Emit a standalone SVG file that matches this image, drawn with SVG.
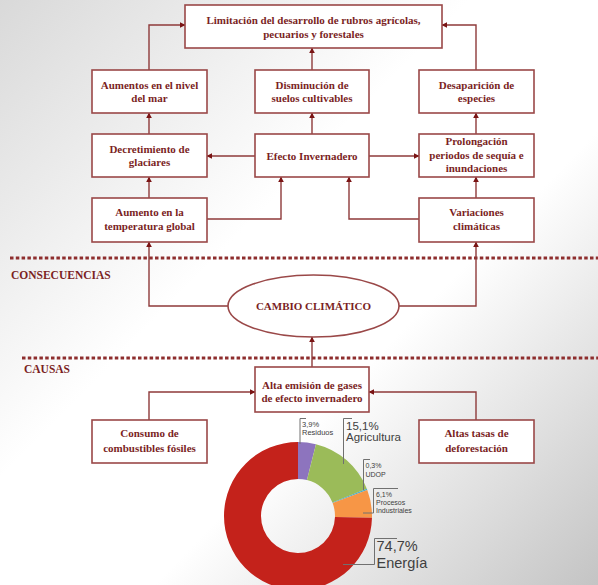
<svg xmlns="http://www.w3.org/2000/svg" width="598" height="585" viewBox="0 0 598 585">
<defs>
<linearGradient id="bg" gradientUnits="userSpaceOnUse" x1="0" y1="0" x2="598" y2="585">
<stop offset="0" stop-color="#d9d9d9"/>
<stop offset="0.4" stop-color="#ffffff"/>
<stop offset="0.62" stop-color="#ffffff"/>
<stop offset="1" stop-color="#c4c4c4"/>
</linearGradient>
<marker id="ah" viewBox="0 0 10 10" refX="9" refY="5" markerWidth="6" markerHeight="6" markerUnits="userSpaceOnUse" orient="auto">
<path d="M0,0 L10,5 L0,10 Z" fill="#7a1414"/>
</marker>
<style>
.box{fill:#ffffff;stroke:#9a4848;stroke-width:1.6}
.t{font-family:"Liberation Serif","Times New Roman",serif;font-weight:bold;font-size:11px;fill:#7b1f1f;text-anchor:middle}
.sec{font-family:"Liberation Serif","Times New Roman",serif;font-weight:bold;font-size:11.5px;fill:#7b1f1f}
.c{fill:none;stroke:#8e3a3a;stroke-width:1.4;marker-end:url(#ah)}
.dash{fill:none;stroke:#8e2e2e;stroke-width:3;stroke-dasharray:3.5 2.3}
.lead{fill:none;stroke:#707070;stroke-width:1}
.lbl{font-family:"Liberation Sans",Arial,sans-serif;fill:#404040}
</style>
</defs>
<rect x="0" y="0" width="598" height="585" fill="url(#bg)"/>

<g id="separators">
<line class="dash" x1="10" y1="258" x2="598" y2="258"/>
<line class="dash" x1="22" y1="358" x2="598" y2="358"/>
<text class="sec" x="11" y="279">CONSECUENCIAS</text>
<text class="sec" x="24" y="373" font-size="10.5">CAUSAS</text>
</g>

<g id="connectors">
<path class="c" d="M149,70 V25 H185"/>
<path class="c" d="M312,70 V48"/>
<path class="c" d="M476,70 V25 H442"/>
<path class="c" d="M149,134 V113"/>
<path class="c" d="M312,134 V113"/>
<path class="c" d="M476,134 V113"/>
<path class="c" d="M255,156 H207"/>
<path class="c" d="M369,156 H419"/>
<path class="c" d="M149,198 V177"/>
<path class="c" d="M476,198 V177"/>
<path class="c" d="M207,219 H281 V177"/>
<path class="c" d="M419,219 H349 V177"/>
<path class="c" d="M228,306 H149 V242"/>
<path class="c" d="M399,306 H476 V242"/>
<path class="c" d="M312,367 V337"/>
<path class="c" d="M149,420 V392 H255"/>
<path class="c" d="M476,420 V392 H369"/>
</g>

<g id="n-limitacion">
<rect class="box" x="185" y="5" width="257" height="43"/>
<text class="t" x="313.5" y="23.5">Limitación del desarrollo de rubros agrícolas,</text>
<text class="t" x="313.5" y="37.5">pecuarios y forestales</text>
</g>
<g id="n-aumentos-mar">
<rect class="box" x="92" y="70" width="115" height="43"/>
<text class="t" x="149.5" y="88.5">Aumentos en el nivel</text>
<text class="t" x="149.5" y="102">del mar</text>
</g>
<g id="n-disminucion">
<rect class="box" x="255" y="70" width="114" height="43"/>
<text class="t" x="312" y="88.5">Disminución de</text>
<text class="t" x="312" y="102">suelos cultivables</text>
</g>
<g id="n-desaparicion">
<rect class="box" x="419" y="70" width="115" height="43"/>
<text class="t" x="476.5" y="88.5">Desaparición de</text>
<text class="t" x="476.5" y="102">especies</text>
</g>
<g id="n-decretimiento">
<rect class="box" x="92" y="134" width="115" height="43"/>
<text class="t" x="149.5" y="153">Decretimiento de</text>
<text class="t" x="149.5" y="166">glaciares</text>
</g>
<g id="n-efecto">
<rect class="box" x="255" y="134" width="114" height="43"/>
<text class="t" x="312" y="159.5">Efecto Invernadero</text>
</g>
<g id="n-prolongacion">
<rect class="box" x="419" y="134" width="115" height="43"/>
<text class="t" x="476.5" y="145">Prolongación</text>
<text class="t" x="476.5" y="158.5">periodos de sequía e</text>
<text class="t" x="476.5" y="172">inundaciones</text>
</g>
<g id="n-aumento-temp">
<rect class="box" x="92" y="198" width="115" height="44"/>
<text class="t" x="149.5" y="215.5">Aumento en la</text>
<text class="t" x="149.5" y="230">temperatura global</text>
</g>
<g id="n-variaciones">
<rect class="box" x="419" y="198" width="115" height="44"/>
<text class="t" x="476.5" y="215.5">Variaciones</text>
<text class="t" x="476.5" y="230">climáticas</text>
</g>
<g id="n-cambio">
<ellipse class="box" cx="313.5" cy="306" rx="85.5" ry="31"/>
<text class="t" x="313.5" y="310">CAMBIO CLIMÁTICO</text>
</g>
<g id="n-alta-emision">
<rect class="box" x="255" y="367" width="114" height="45"/>
<text class="t" x="312" y="388.5">Alta emisión de gases</text>
<text class="t" x="312" y="402">de efecto invernadero</text>
</g>
<g id="n-consumo">
<rect class="box" x="92" y="420" width="115" height="43"/>
<text class="t" x="149.5" y="437">Consumo de</text>
<text class="t" x="149.5" y="451.5">combustibles fósiles</text>
</g>
<g id="n-deforestacion">
<rect class="box" x="419" y="420" width="115" height="43"/>
<text class="t" x="476.5" y="437">Altas tasas de</text>
<text class="t" x="476.5" y="451.5">deforestación</text>
</g>

<g id="chart">
<path d="M298,442 A74,74 0 0 1 315.95,444.21 L306.98,480.11 A37,37 0 0 0 298,479 Z" fill="#8d74be"/>
<path d="M315.95,444.21 A74,74 0 0 1 366.8,488.76 L332.4,502.38 A37,37 0 0 0 306.98,480.11 Z" fill="#9bbb59"/>
<path d="M366.8,488.76 A74,74 0 0 1 367.3,490.06 L332.65,503.03 A37,37 0 0 0 332.4,502.38 Z" fill="#4bacc6"/>
<path d="M367.3,490.06 A74,74 0 0 1 371.98,517.86 L334.99,516.93 A37,37 0 0 0 332.65,503.03 Z" fill="#f79646"/>
<path d="M371.98,517.86 A74,74 0 1 1 298,442 L298,479 A37,37 0 1 0 334.99,516.93 Z" fill="#c4221b"/>

<polyline class="lead" points="306,418.5 300,418.5 300,444"/>
<polyline class="lead" points="352,418.5 343.5,418.5 343.5,464"/>
<polyline class="lead" points="370,459.5 363.5,459.5 363.5,490"/>
<polyline class="lead" points="398,488.5 373.5,488.5 373.5,513 363,513"/>
<polyline class="lead" points="397,538.5 374.5,538.5 374.5,564.5 343,564.5"/>

<text class="lbl" x="302" y="426.5" font-size="7.5">3,9%</text>
<text class="lbl" x="302" y="434.5" font-size="7.5">Residuos</text>
<text class="lbl" x="346" y="429.5" font-size="11.5">15,1%</text>
<text class="lbl" x="346" y="440.5" font-size="11.5">Agricultura</text>
<text class="lbl" x="365.5" y="467.5" font-size="7">0,3%</text>
<text class="lbl" x="365.5" y="476.5" font-size="7">UDOP</text>
<text class="lbl" x="376" y="497" font-size="7">6,1%</text>
<text class="lbl" x="376" y="505" font-size="7">Procesos</text>
<text class="lbl" x="376" y="513" font-size="7">Industriales</text>
<text class="lbl" x="376.5" y="551" font-size="14.5">74,7%</text>
<text class="lbl" x="376.5" y="567.5" font-size="14.5">Energía</text>
</g>
</svg>
